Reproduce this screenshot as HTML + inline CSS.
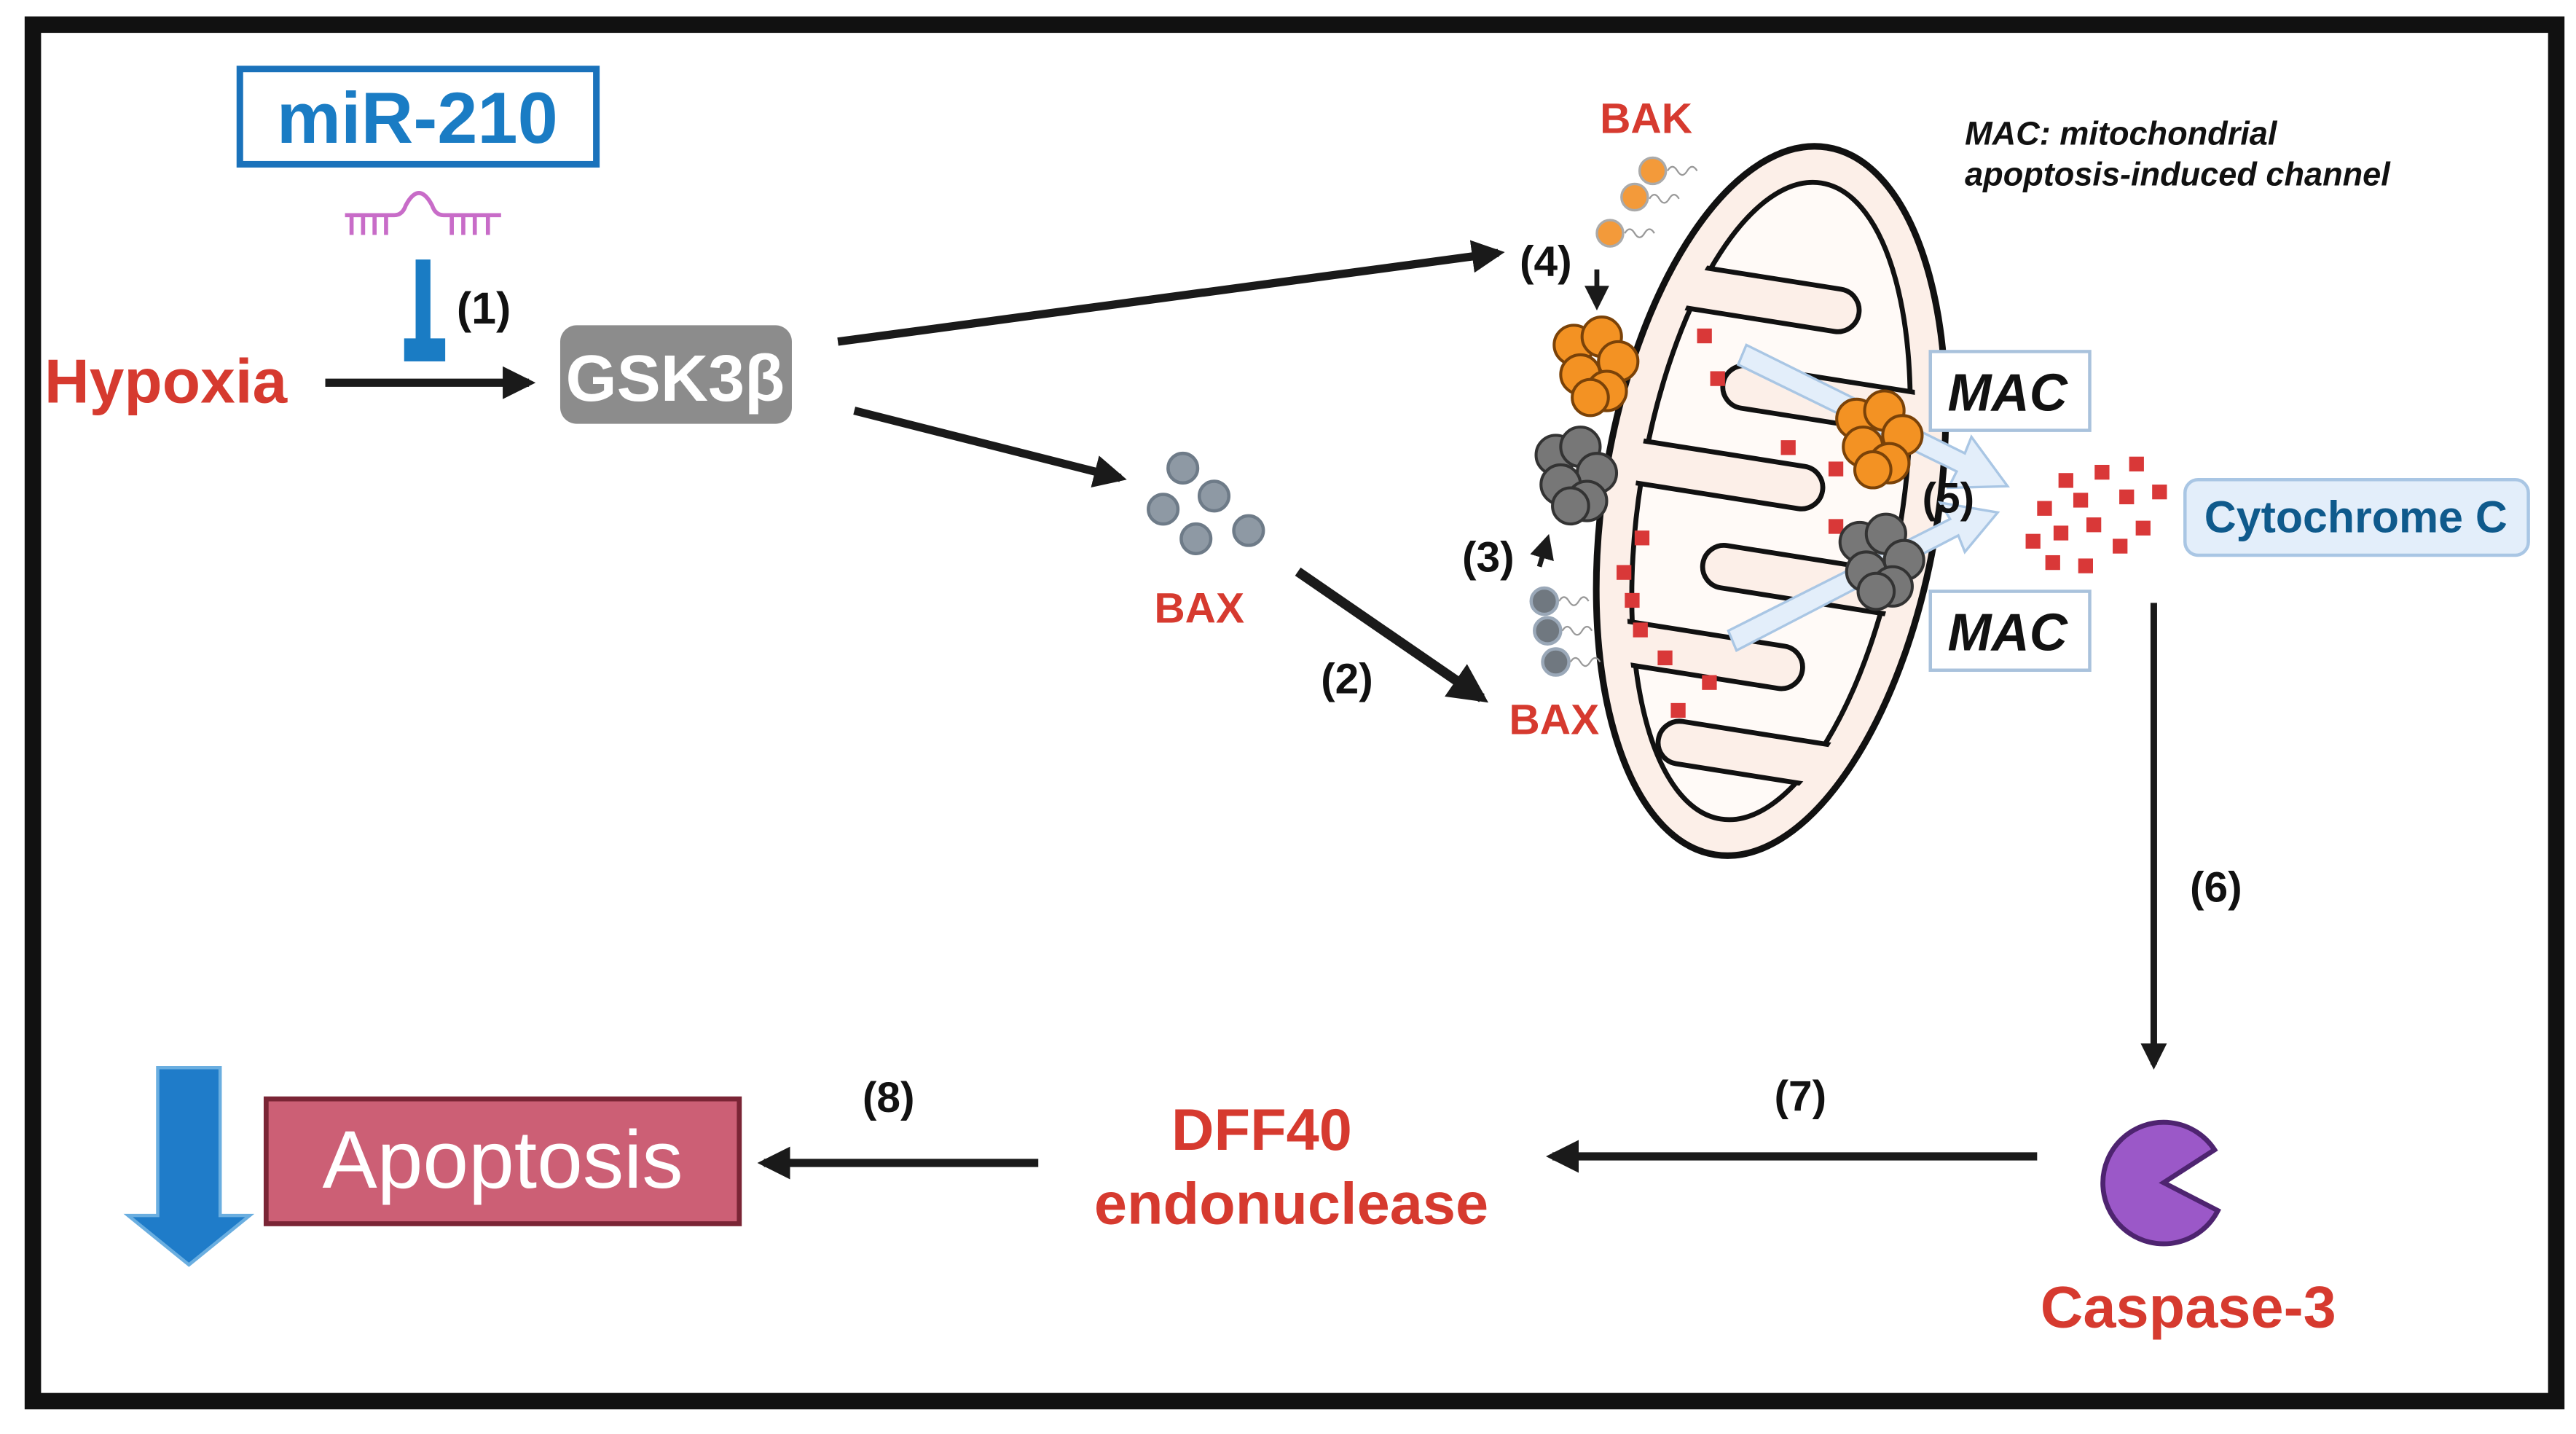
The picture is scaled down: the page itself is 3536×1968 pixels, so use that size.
<!DOCTYPE html>
<html><head><meta charset="utf-8"><style>
html,body{margin:0;padding:0;background:#fff}
svg{display:block}
text{font-family:"Liberation Sans",sans-serif}
</style></head><body>
<svg width="3536" height="1968" viewBox="0 0 1568 873" preserveAspectRatio="none" xmlns="http://www.w3.org/2000/svg">
<defs>
<marker id="ah" markerWidth="4" markerHeight="4" refX="3.2" refY="2" orient="auto" markerUnits="strokeWidth"><path d="M0,0 L4,2 L0,4 z" fill="#1a1a1a"/></marker>
<marker id="ah2" markerWidth="5" markerHeight="5" refX="4" refY="2.5" orient="auto" markerUnits="strokeWidth"><path d="M0,0 L5,2.5 L0,5 z" fill="#1a1a1a"/></marker>
<clipPath id="inner"><ellipse cx="0" cy="0" rx="83" ry="199"/></clipPath>
</defs>
<rect x="20" y="15" width="1536" height="838" fill="#fff" stroke="#111" stroke-width="10"/>

<!-- miR-210 -->
<rect x="146" y="42" width="217" height="58" fill="#fff" stroke="#1a72bb" stroke-width="4"/>
<text x="254" y="87" font-size="44" font-weight="bold" fill="#1a7cc4" text-anchor="middle">miR-210</text>
<g stroke="#c86cc8" stroke-width="2.5" fill="none">
<path d="M210,131 H240 Q245,131 247,125 Q255,110 263,125 Q265,131 270,131 H305"/>
<path d="M214,131 v12 M221,131 v12 M228,131 v12 M235,131 v12 M275,131 v12 M282,131 v12 M289,131 v12 M297,131 v12"/>
</g>
<rect x="253" y="158" width="9" height="55" fill="#1a7cc4"/>
<rect x="246" y="206" width="25" height="14" fill="#1a7cc4"/>
<text x="278" y="197" font-size="27" font-weight="bold" fill="#111">(1)</text>
<text x="27" y="245" font-size="38" font-weight="bold" fill="#d63a2f">Hypoxia</text>
<line x1="198" y1="233" x2="322" y2="233" stroke="#1a1a1a" stroke-width="5" marker-end="url(#ah)"/>
<rect x="341" y="198" width="141" height="60" rx="10" fill="#8c8c8c"/>
<text x="411" y="244" font-size="40" font-weight="bold" fill="#fff" text-anchor="middle">GSK3β</text>

<line x1="510" y1="208" x2="912" y2="154" stroke="#1a1a1a" stroke-width="5" marker-end="url(#ah)"/>
<line x1="520" y1="250" x2="682" y2="291" stroke="#1a1a1a" stroke-width="5" marker-end="url(#ah)"/>
<g fill="#8e99a4" stroke="#6e7b88" stroke-width="2">
<circle cx="720" cy="285" r="9"/><circle cx="739" cy="302" r="9"/><circle cx="708" cy="310" r="9"/><circle cx="728" cy="328" r="9"/><circle cx="760" cy="323" r="9"/>
</g>
<text x="730" y="379" font-size="26" font-weight="bold" fill="#d63a2f" text-anchor="middle">BAX</text>
<line x1="790" y1="348" x2="902" y2="425" stroke="#1a1a1a" stroke-width="6" marker-end="url(#ah)"/>
<text x="804" y="422" font-size="26" font-weight="bold" fill="#111">(2)</text>

<!-- mitochondrion -->
<g transform="translate(1078,305) rotate(9)">
<ellipse cx="0" cy="0" rx="102" ry="218" fill="#fcefe8" stroke="#111" stroke-width="4"/>
<ellipse cx="0" cy="0" rx="80" ry="196" fill="#fffaf7" stroke="#111" stroke-width="3"/>
<g clip-path="url(#inner)" fill="#fcefe8" stroke="#111" stroke-width="3">
<rect x="-110" y="-134" width="145" height="26" rx="13"/>
<rect x="-110" y="-24" width="140" height="26" rx="13"/>
<rect x="-110" y="86" width="145" height="26" rx="13"/>
<rect x="-40" y="-79" width="150" height="26" rx="13"/>
<rect x="-35" y="31" width="145" height="26" rx="13"/>
<rect x="-45" y="141" width="155" height="26" rx="13"/>
</g>
</g>
<g fill="#d93838">
<rect x="1033" y="200" width="9" height="9"/><rect x="1041" y="226" width="9" height="9"/><rect x="1084" y="268" width="9" height="9"/><rect x="1113" y="281" width="9" height="9"/><rect x="1113" y="316" width="9" height="9"/><rect x="995" y="323" width="9" height="9"/><rect x="984" y="344" width="9" height="9"/><rect x="989" y="361" width="9" height="9"/><rect x="994" y="379" width="9" height="9"/><rect x="1009" y="396" width="9" height="9"/><rect x="1036" y="411" width="9" height="9"/><rect x="1017" y="428" width="9" height="9"/>
</g>

<g fill="#e3eefa" stroke="#a9c6e4" stroke-width="1.5">
<path d="M1058,222 L1063,210 L1196,276 L1200,266 L1222,296 L1186,297 L1191,287 Z"/>
<path d="M1052,384 L1057,396 L1192,326 L1196,336 L1216,312 L1181,306 L1187,316 Z"/>
</g>

<g fill="#f39223" stroke="#7a4208" stroke-width="1.8">
<circle cx="958" cy="210" r="12"/><circle cx="975" cy="205" r="12"/><circle cx="985" cy="220" r="12"/><circle cx="962" cy="228" r="12"/><circle cx="978" cy="238" r="12"/><circle cx="968" cy="242" r="11"/>
<circle cx="1130" cy="255" r="12"/><circle cx="1147" cy="250" r="12"/><circle cx="1158" cy="265" r="12"/><circle cx="1134" cy="272" r="12"/><circle cx="1150" cy="282" r="12"/><circle cx="1140" cy="286" r="11"/>
</g>
<g fill="#777" stroke="#333" stroke-width="1.8">
<circle cx="947" cy="277" r="12"/><circle cx="962" cy="272" r="12"/><circle cx="972" cy="288" r="12"/><circle cx="950" cy="295" r="12"/><circle cx="966" cy="305" r="12"/><circle cx="956" cy="308" r="11"/>
<circle cx="1132" cy="330" r="12"/><circle cx="1148" cy="325" r="12"/><circle cx="1159" cy="341" r="12"/><circle cx="1136" cy="348" r="12"/><circle cx="1152" cy="357" r="12"/><circle cx="1142" cy="360" r="11"/>
</g>

<text x="1002" y="81" font-size="26" font-weight="bold" fill="#d63a2f" text-anchor="middle">BAK</text>
<g fill="#f39a3a" stroke="#aaa" stroke-width="1.5"><circle cx="1006" cy="104" r="8"/><circle cx="995" cy="120" r="8"/><circle cx="980" cy="142" r="8"/></g>
<g fill="none" stroke="#999" stroke-width="1"><path d="M1015,104 q3,-5 6,0 t6,0 t6,0"/><path d="M1004,121 q3,-5 6,0 t6,0 t6,0"/><path d="M989,142 q3,-5 6,0 t6,0 t6,0"/></g>
<text x="925" y="168" font-size="26" font-weight="bold" fill="#111">(4)</text>
<line x1="972" y1="164" x2="972" y2="186" stroke="#1a1a1a" stroke-width="3" marker-end="url(#ah2)"/>
<g fill="#707880" stroke="#9aa8b8" stroke-width="2"><circle cx="940" cy="366" r="8"/><circle cx="942" cy="384" r="8"/><circle cx="947" cy="403" r="8"/></g>
<g fill="none" stroke="#999" stroke-width="1"><path d="M949,366 q3,-5 6,0 t6,0 t6,0"/><path d="M951,384 q3,-5 6,0 t6,0 t6,0"/><path d="M956,403 q3,-5 6,0 t6,0 t6,0"/></g>
<text x="890" y="348" font-size="26" font-weight="bold" fill="#111">(3)</text>
<line x1="937" y1="345" x2="942" y2="328" stroke="#1a1a1a" stroke-width="3" marker-end="url(#ah2)"/>
<text x="946" y="447" font-size="26" font-weight="bold" fill="#d63a2f" text-anchor="middle">BAX</text>

<rect x="1175" y="214" width="97" height="48" fill="#fff" stroke="#a9c2dc" stroke-width="2"/>
<text x="1222" y="250" font-size="32" font-weight="bold" font-style="italic" fill="#111" text-anchor="middle">MAC</text>
<rect x="1175" y="360" width="97" height="48" fill="#fff" stroke="#a9c2dc" stroke-width="2"/>
<text x="1222" y="396" font-size="32" font-weight="bold" font-style="italic" fill="#111" text-anchor="middle">MAC</text>
<text x="1170" y="312" font-size="26" font-weight="bold" fill="#111">(5)</text>
<text x="1196" y="88" font-size="20" font-weight="bold" font-style="italic" fill="#111">MAC: mitochondrial</text>
<text x="1196" y="113" font-size="20" font-weight="bold" font-style="italic" fill="#111">apoptosis-induced channel</text>

<g fill="#d93838">
<rect x="1253" y="288" width="9" height="9"/><rect x="1275" y="283" width="9" height="9"/><rect x="1296" y="278" width="9" height="9"/><rect x="1240" y="305" width="9" height="9"/><rect x="1262" y="300" width="9" height="9"/><rect x="1290" y="298" width="9" height="9"/><rect x="1310" y="295" width="9" height="9"/><rect x="1250" y="320" width="9" height="9"/><rect x="1270" y="315" width="9" height="9"/><rect x="1300" y="317" width="9" height="9"/><rect x="1233" y="325" width="9" height="9"/><rect x="1286" y="328" width="9" height="9"/><rect x="1245" y="338" width="9" height="9"/><rect x="1265" y="340" width="9" height="9"/>
</g>
<rect x="1330" y="292" width="209" height="46" rx="8" fill="#e3eefa" stroke="#a9c6e4" stroke-width="2"/>
<text x="1434" y="324" font-size="27" font-weight="bold" fill="#0f5a8c" text-anchor="middle">Cytochrome C</text>

<line x1="1311" y1="367" x2="1311" y2="648" stroke="#1a1a1a" stroke-width="4" marker-end="url(#ah)"/>
<text x="1333" y="549" font-size="26" font-weight="bold" fill="#111">(6)</text>
<path d="M1317,720 L1348,700 A37,37 0 1 0 1350,737 Z" fill="#9b58c8" stroke="#4e2470" stroke-width="3"/>
<text x="1332" y="808" font-size="36" font-weight="bold" fill="#d63a2f" text-anchor="middle">Caspase-3</text>
<line x1="1240" y1="704" x2="945" y2="704" stroke="#1a1a1a" stroke-width="5" marker-end="url(#ah)"/>
<text x="1080" y="676" font-size="26" font-weight="bold" fill="#111">(7)</text>
<text x="768" y="700" font-size="36" font-weight="bold" fill="#d63a2f" text-anchor="middle">DFF40</text>
<text x="786" y="745" font-size="36" font-weight="bold" fill="#d63a2f" text-anchor="middle">endonuclease</text>
<line x1="632" y1="708" x2="465" y2="708" stroke="#1a1a1a" stroke-width="5" marker-end="url(#ah)"/>
<text x="525" y="677" font-size="26" font-weight="bold" fill="#111">(8)</text>
<rect x="162" y="669" width="288" height="76" fill="#cc5f75" stroke="#7a2535" stroke-width="3"/>
<text x="306" y="723" font-size="50" fill="#fff" text-anchor="middle">Apoptosis</text>
<path d="M96,650 H134 V740 H152 L115,770 L78,740 H96 Z" fill="#1f7cc9" stroke="#6aaee0" stroke-width="2"/>
</svg>
</body></html>
